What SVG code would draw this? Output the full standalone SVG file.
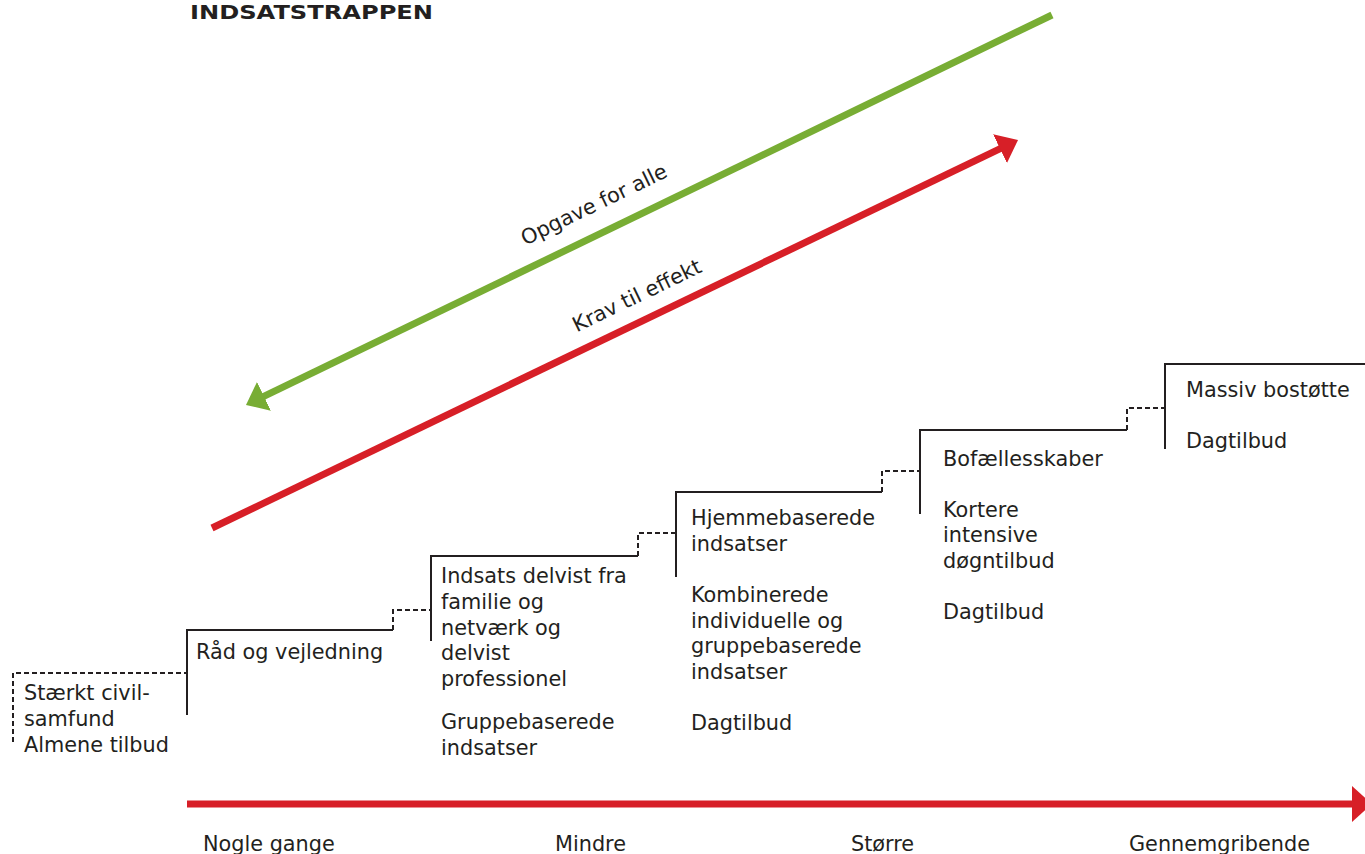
<svg xmlns="http://www.w3.org/2000/svg" width="1365" height="854" viewBox="0 0 1365 854">
<style>
.t{font-family:"DejaVu Sans","Verdana",sans-serif;font-size:20.8px;fill:#231f20}
.title{font-family:"DejaVu Sans","Verdana",sans-serif;font-size:19px;font-weight:bold;fill:#231f20}
.s{fill:none;stroke:#231f20;stroke-width:2}
.d{fill:none;stroke:#231f20;stroke-width:2;stroke-dasharray:5 3}
.red{fill:none;stroke:#d71f27;stroke-width:7}
.green{fill:none;stroke:#78ad34;stroke-width:7}
</style>
<defs>
<marker id="ar" viewBox="0 0 20 32" markerWidth="20" markerHeight="32" refX="2" refY="16" orient="auto" markerUnits="userSpaceOnUse"><path d="M0,0 L20,16 L0,32 Z" fill="#d71f27"/></marker>
<marker id="ag" viewBox="0 0 20 32" markerWidth="20" markerHeight="32" refX="2" refY="16" orient="auto" markerUnits="userSpaceOnUse"><path d="M0,0 L20,16 L0,32 Z" fill="#78ad34"/></marker>
<marker id="ab" viewBox="0 0 20 36" markerWidth="20" markerHeight="36" refX="1" refY="18" orient="auto" markerUnits="userSpaceOnUse"><path d="M0,0 L20,18 L0,36 Z" fill="#d71f27"/></marker>
</defs>
<rect width="1365" height="854" fill="#ffffff"/>
<text class="title" x="190" y="19" textLength="243" lengthAdjust="spacingAndGlyphs">INDSATSTRAPPEN</text>

<g id="connectors">
<line class="green" x1="1052" y1="15" x2="262.2" y2="397.2" marker-end="url(#ag)"/>
<line class="red" x1="212" y1="528" x2="1001.8" y2="147.8" marker-end="url(#ar)"/>
<line class="red" x1="187" y1="804" x2="1353" y2="804" marker-end="url(#ab)"/>
<text class="t" transform="translate(597,211) rotate(-25.8)" text-anchor="middle">Opgave for alle</text>
<text class="t" transform="translate(640,302) rotate(-25.8)" text-anchor="middle">Krav til effekt</text>
</g>

<g id="step0">
<path class="d" d="M13,742 V673 H186"/>
<text class="t" x="24" y="700"><tspan x="24">Stærkt civil-</tspan><tspan x="24" y="726">samfund</tspan><tspan x="24" y="752">Almene tilbud</tspan></text>
</g>

<g id="step1">
<path class="s" d="M187,715 V630 H393"/>
<path class="d" d="M393,630 V610 H430"/>
<text class="t" x="196" y="659">Råd og vejledning</text>
</g>

<g id="step2">
<path class="s" d="M431,641 V556 H638"/>
<path class="d" d="M638,556 V533 H675"/>
<text class="t"><tspan x="441" y="583">Indsats delvist fra</tspan><tspan x="441" y="609">familie og</tspan><tspan x="441" y="635">netværk og</tspan><tspan x="441" y="660">delvist</tspan><tspan x="441" y="686">professionel</tspan><tspan x="441" y="729">Gruppebaserede</tspan><tspan x="441" y="755">indsatser</tspan></text>
</g>

<g id="step3">
<path class="s" d="M676,577 V492 H882"/>
<path class="d" d="M882,492 V471 H919"/>
<text class="t"><tspan x="691" y="525">Hjemmebaserede</tspan><tspan x="691" y="551">indsatser</tspan><tspan x="691" y="602">Kombinerede</tspan><tspan x="691" y="628">individuelle og</tspan><tspan x="691" y="653">gruppebaserede</tspan><tspan x="691" y="679">indsatser</tspan><tspan x="691" y="730">Dagtilbud</tspan></text>
</g>

<g id="step4">
<path class="s" d="M920,514 V430 H1127"/>
<path class="d" d="M1127,430 V408 H1164"/>
<text class="t"><tspan x="943" y="466">Bofællesskaber</tspan><tspan x="943" y="517">Kortere</tspan><tspan x="943" y="542">intensive</tspan><tspan x="943" y="568">døgntilbud</tspan><tspan x="943" y="619">Dagtilbud</tspan></text>
</g>

<g id="step5">
<path class="s" d="M1165,449 V364 H1365"/>
<text class="t"><tspan x="1186" y="397">Massiv bostøtte</tspan><tspan x="1186" y="448">Dagtilbud</tspan></text>
</g>

<g id="axis-labels">
<text class="t" x="203" y="851">Nogle gange</text>
<text class="t" x="555" y="851">Mindre</text>
<text class="t" x="851" y="851">Større</text>
<text class="t" x="1129" y="851">Gennemgribende</text>
</g>
</svg>
